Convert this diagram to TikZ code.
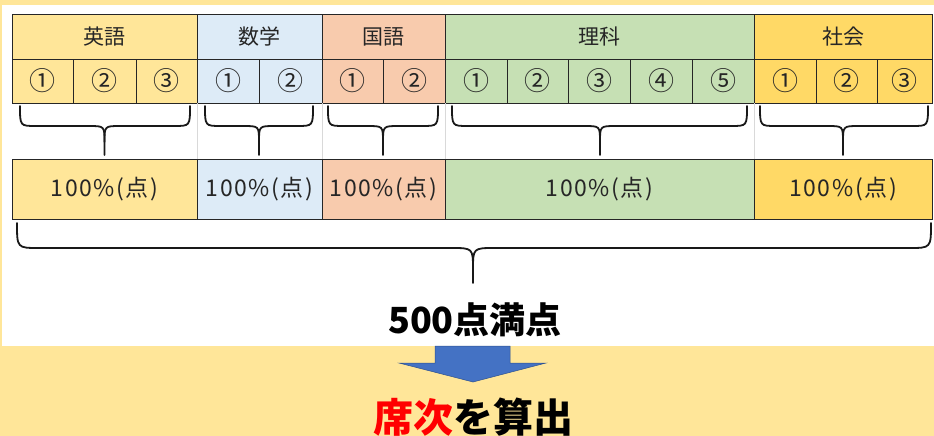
\documentclass[tikz,border=0pt]{standalone}
\usepackage{fontspec}
\setmainfont{Noto Sans CJK JP}
\usetikzlibrary{calc}
\definecolor{bgyellow}{HTML}{FFE699}
\definecolor{cEng}{HTML}{FFE699}
\definecolor{cMath}{HTML}{DDEBF7}
\definecolor{cKoku}{HTML}{F8CBAD}
\definecolor{cSci}{HTML}{C6E0B4}
\definecolor{cSoc}{HTML}{FFD966}
\definecolor{arrowblue}{HTML}{4472C4}
\definecolor{arrowedge}{HTML}{2F528F}
\definecolor{txt}{HTML}{262626}
\definecolor{gridgrey}{HTML}{D9D9D9}
\tikzset{
  cell/.style={draw=black!85, line width=0.9pt, inner sep=0pt, outer sep=0pt, text=txt},
  bracestyle/.style={draw=black!90, line width=1.8pt, line cap=round},
  gridline/.style={draw=gridgrey, line width=0.8pt},
}
\newcommand\hdrfont{\fontsize{21}{25}\selectfont}
\newcommand\numfont{\fontsize{26}{30}\selectfont}
\newcommand\pctfont{\fontsize{23}{27}\selectfont\addfontfeature{LetterSpace=7}}
% name, x1, y1, x2, y2, fill, text
\newcommand\cellbox[7]{%
  \node[cell, fill=#6, minimum width={(#4-#2)*1pt}, minimum height={(#5-#3)*1pt}]
    (#1) at ({(#2+#4)/2},{(#3+#5)/2}) {#7};}
% x1, x2, xc, ytop, ymid, ytip, r
\newcommand\cbrace[7]{%
  \draw[bracestyle] (#1,#4) .. controls (#1,#5) .. (#1+#7,#5) -- (#3-#7,#5)
      .. controls (#3,#5) .. (#3,#5+#7) -- (#3,#6);
  \draw[bracestyle] (#2,#4) .. controls (#2,#5) .. (#2-#7,#5) -- (#3+#7,#5)
      .. controls (#3,#5) .. (#3,#5+#7);}
\begin{document}
\begin{tikzpicture}[x=1pt,y=-1pt]
\useasboundingbox (0,0) rectangle (934,436);
\fill[bgyellow] (0,0) rectangle (934,436);
\fill[white] (2,5) rectangle (934,346);

% header row
\cellbox{Eh}{12}{14}{197}{59}{cEng}{\hdrfont 英語}
\cellbox{Mh}{197}{14}{322}{59}{cMath}{\hdrfont 数学}
\cellbox{Kh}{322}{14}{445}{59}{cKoku}{\hdrfont 国語}
\cellbox{Sh}{445}{14}{754}{59}{cSci}{\hdrfont 理科}
\cellbox{Hh}{754}{14}{932}{59}{cSoc}{\hdrfont 社会}

% number row
\cellbox{E1}{12}{59}{73}{103}{cEng}{\numfont ①}
\cellbox{E2}{73}{59}{136}{103}{cEng}{\numfont ②}
\cellbox{E3}{136}{59}{197}{103}{cEng}{\numfont ③}
\cellbox{M1}{197}{59}{259}{103}{cMath}{\numfont ①}
\cellbox{M2}{259}{59}{322}{103}{cMath}{\numfont ②}
\cellbox{K1}{322}{59}{383}{103}{cKoku}{\numfont ①}
\cellbox{K2}{383}{59}{445}{103}{cKoku}{\numfont ②}
\cellbox{S1}{445}{59}{507}{103}{cSci}{\numfont ①}
\cellbox{S2}{507}{59}{568}{103}{cSci}{\numfont ②}
\cellbox{S3}{568}{59}{630}{103}{cSci}{\numfont ③}
\cellbox{S4}{630}{59}{692}{103}{cSci}{\numfont ④}
\cellbox{S5}{692}{59}{754}{103}{cSci}{\numfont ⑤}
\cellbox{H1}{754}{59}{816}{103}{cSoc}{\numfont ①}
\cellbox{H2}{816}{59}{877}{103}{cSoc}{\numfont ②}
\cellbox{H3}{877}{59}{932}{103}{cSoc}{\numfont ③}

% bottom row
\cellbox{Eb}{12}{159}{197}{219}{cEng}{\pctfont 100\%(点)}
\cellbox{Mb}{197}{159}{322}{219}{cMath}{\pctfont 100\%(点)}
\cellbox{Kb}{322}{159}{445}{219}{cKoku}{\pctfont 100\%(点)}
\cellbox{Sb}{445}{159}{754}{219}{cSci}{\pctfont 100\%(点)}
\cellbox{Hb}{754}{159}{932}{219}{cSoc}{\pctfont 100\%(点)}

% faint grid lines between rows
\draw[gridline] (E3.south east) -- (Eb.north east);
\draw[gridline] (M2.south east) -- (Mb.north east);
\draw[gridline] (K2.south east) -- (Kb.north east);
\draw[gridline] (S5.south east) -- (Sb.north east);

% small braces
\cbrace{20}{190}{104.5}{106}{126}{155}{16}
\cbrace{205}{313}{259}{106}{126}{155}{16}
\cbrace{328}{438}{383}{106}{126}{155}{16}
\cbrace{452}{747}{600}{106}{126}{155}{16}
\cbrace{760}{928}{843}{106}{126}{155}{16}

% big brace
\cbrace{17}{931}{473}{223}{248}{283}{22}

% total
\node[font=\bfseries\fontsize{36}{42}\selectfont, text=black, inner sep=0pt] (total) at (475,320) {500点満点};

% arrow
\fill[arrowblue, draw=arrowedge, line width=0.5pt]
  (435,346) -- (510,346) -- (510,363) -- (546,363) -- (473,382) -- (399,363) -- (435,363) -- cycle;

% result
\node[font=\bfseries\fontsize{40}{46}\selectfont, text=black, inner sep=0pt] (result) at (473,417) {\textcolor{red}{席次}を算出};
\end{tikzpicture}
\end{document}
